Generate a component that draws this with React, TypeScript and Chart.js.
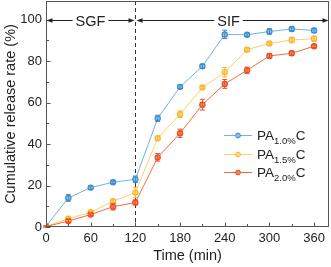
import React, { useEffect, useRef } from "react";
import { Chart, registerables } from "chart.js";

Chart.register(...registerables);

const times = [0, 30, 60, 90, 120, 150, 180, 210, 240, 270, 300, 330, 360];
const pa10 = [0.4, 14.0, 19.0, 21.6, 23.0, 52.4, 67.6, 77.5, 92.9, 92.7, 94.3, 95.5, 94.8];
const pa15 = [0.3, 4.0, 7.1, 12.4, 16.6, 42.8, 54.4, 67.3, 74.7, 85.5, 88.5, 90.2, 90.8];
const pa20 = [0.2, 2.9, 6.0, 9.8, 11.8, 33.6, 45.2, 59.0, 69.0, 75.6, 82.5, 83.8, 87.2];
const err10 = [0.3, 1.6, 0.8, 0.6, 1.6, 1.5, 0.8, 0.9, 2.0, 0.8, 1.3, 1.0, 1.0];
const err15 = [0.3, 0.9, 0.7, 1.0, 2.5, 1.0, 1.6, 0.6, 2.2, 0.8, 0.6, 1.3, 1.2];
const err20 = [0.3, 0.7, 0.6, 1.6, 1.2, 1.8, 2.0, 2.6, 2.1, 1.5, 1.0, 1.0, 0.8];

const seriesSub = ["1.0%", "1.5%", "2.0%"];
const legendMain = "PA";
const legendTail = "C";
const phaseLabels = ["SGF", "SIF"];
const phaseSplit = 120;
const phaseLevel = 100;

const xTickVals = [0, 60, 120, 180, 240, 300, 360];
const yTickVals = [0, 20, 40, 60, 80, 100];
const xMin = 0;
const xMax = 380;
const xMinor = 30;
const yMin = 0;
const yMax = 109;
const yMinor = 10;

const lineColors = ["#72b3e2", "#fdcf6a", "#f46a3c"];
const markColors = ["#3d8bc9", "#f8b62c", "#e94e1f"];
const fillColors = ["#8cc2ea", "#fdd98a", "#f7865e"];
const FONT = "Arial, 'Liberation Sans', sans-serif";

const framePlugin = {
  id: "frameAndExtras",
  beforeDatasetsDraw(chart: any) {
    const { ctx, chartArea: a } = chart;
    const xs = chart.scales.x;
    ctx.save();
    const xd = Math.round(xs.getPixelForValue(phaseSplit)) + 0.5;
    ctx.strokeStyle = "#333";
    ctx.lineWidth = 1;
    ctx.setLineDash([4, 3]);
    ctx.beginPath();
    ctx.moveTo(xd, a.top);
    ctx.lineTo(xd, a.bottom);
    ctx.stroke();
    ctx.setLineDash([]);
    ctx.restore();
  },
  afterDatasetsDraw(chart: any) {
    const { ctx, chartArea: a } = chart;
    const xs = chart.scales.x;
    const ys = chart.scales.y;
    ctx.save();
    // error bars
    const errs = [err10, err15, err20];
    const vals = [pa10, pa15, pa20];
    for (let s = 0; s < 3; s++) {
      ctx.strokeStyle = markColors[s];
      ctx.lineWidth = 1;
      for (let i = 0; i < times.length; i++) {
        const x = xs.getPixelForValue(times[i]);
        const y1 = ys.getPixelForValue(vals[s][i] + errs[s][i]);
        const y2 = ys.getPixelForValue(vals[s][i] - errs[s][i]);
        ctx.beginPath();
        ctx.moveTo(x, y1);
        ctx.lineTo(x, y2);
        ctx.moveTo(x - 2.5, y1);
        ctx.lineTo(x + 2.5, y1);
        ctx.moveTo(x - 2.5, y2);
        ctx.lineTo(x + 2.5, y2);
        ctx.stroke();
      }
    }
    // frame
    ctx.strokeStyle = "#555";
    ctx.lineWidth = 1;
    const L = Math.round(a.left) + 0.5;
    const R = Math.round(a.right) - 0.5;
    const T = Math.round(a.top) + 0.5;
    const B = Math.round(a.bottom) - 0.5;
    ctx.strokeRect(L, T, R - L, B - T);
    // inward ticks
    ctx.beginPath();
    for (let v = xMin; v <= xMax; v += xMinor) {
      const px = Math.round(xs.getPixelForValue(v)) + 0.5;
      const len = xTickVals.includes(v) ? 4 : 2.5;
      ctx.moveTo(px, B);
      ctx.lineTo(px, B - len);
    }
    for (let v = yMin; v <= yMax; v += yMinor) {
      const py = Math.round(ys.getPixelForValue(v)) + 0.5;
      const len = yTickVals.includes(v) ? 4 : 2.5;
      ctx.moveTo(L, py);
      ctx.lineTo(L + len, py);
    }
    ctx.stroke();

    // phase arrows
    const yA = Math.round(ys.getPixelForValue(phaseLevel)) + 0.5;
    const xd = Math.round(xs.getPixelForValue(phaseSplit)) + 0.5;
    const segs = [
      [L, xd - 1],
      [xd + 1, R],
    ];
    ctx.font = `14.5px ${FONT}`;
    ctx.textAlign = "center";
    ctx.textBaseline = "middle";
    ctx.fillStyle = "#222";
    ctx.strokeStyle = "#222";
    segs.forEach((sg, k) => {
      const [x1, x2] = sg;
      const cx = (x1 + x2) / 2 - (k === 1 ? 4 : 0);
      const tw = ctx.measureText(phaseLabels[k]).width;
      ctx.fillText(phaseLabels[k], cx, yA + 1);
      ctx.beginPath();
      ctx.moveTo(x1 + 4, yA);
      ctx.lineTo(cx - tw / 2 - 3, yA);
      ctx.moveTo(cx + tw / 2 + 3, yA);
      ctx.lineTo(x2 - 4, yA);
      ctx.stroke();
      ctx.beginPath();
      ctx.moveTo(x1, yA);
      ctx.lineTo(x1 + 6, yA - 2.2);
      ctx.lineTo(x1 + 6, yA + 2.2);
      ctx.closePath();
      ctx.moveTo(x2, yA);
      ctx.lineTo(x2 - 6, yA - 2.2);
      ctx.lineTo(x2 - 6, yA + 2.2);
      ctx.closePath();
      ctx.fill();
    });

    // legend
    const rows = [135.5, 154.5, 172.5];
    for (let s = 0; s < 3; s++) {
      const y = rows[s];
      ctx.strokeStyle = lineColors[s];
      ctx.lineWidth = 1;
      ctx.beginPath();
      ctx.moveTo(224, y);
      ctx.lineTo(252, y);
      ctx.stroke();
      ctx.fillStyle = fillColors[s];
      ctx.strokeStyle = markColors[s];
      ctx.beginPath();
      ctx.arc(238, y, 2.4, 0, Math.PI * 2);
      ctx.fill();
      ctx.stroke();
      ctx.fillStyle = "#222";
      ctx.textAlign = "left";
      ctx.textBaseline = "middle";
      ctx.font = `13.5px ${FONT}`;
      let x = 257;
      ctx.fillText(legendMain, x, y + 1);
      x += ctx.measureText(legendMain).width;
      ctx.font = `9.5px ${FONT}`;
      ctx.fillText(seriesSub[s], x, y + 6);
      x += ctx.measureText(seriesSub[s]).width;
      ctx.font = `13.5px ${FONT}`;
      ctx.fillText(legendTail, x, y + 1);
    }
    ctx.restore();
  },
};

function makeDs(vals: number[], s: number) {
  return {
    data: times.map((t, i) => ({ x: t, y: vals[i] })),
    borderColor: lineColors[s],
    borderWidth: 1,
    pointRadius: 2.6,
    pointBackgroundColor: fillColors[s],
    pointBorderColor: markColors[s],
    pointBorderWidth: 1.2,
    tension: 0,
  };
}

export default function App() {
  const ref = useRef<HTMLCanvasElement>(null);
  useEffect(() => {
    if (!ref.current) return;
    const chart = new Chart(ref.current, {
      type: "line",
      data: {
        datasets: [makeDs(pa20, 2), makeDs(pa15, 1), makeDs(pa10, 0)],
      },
      options: {
        animation: false,
        responsive: false,
        layout: { autoPadding: false, padding: { top: 1, right: 2, left: 0, bottom: 0 } },
        plugins: { legend: { display: false }, tooltip: { enabled: false } },
        scales: {
          x: {
            type: "linear",
            min: xMin,
            max: xMax,
            grid: { display: false, drawTicks: false },
            border: { display: false },
            ticks: {
              padding: 4,
              color: "#222",
              font: { size: 13, family: FONT },
              maxRotation: 0,
              autoSkip: false,
            },
            afterBuildTicks: (sc: any) => {
              sc.ticks = xTickVals.map((v) => ({ value: v }));
            },
            afterFit: (sc: any) => {
              sc.height = 40;
              sc.paddingLeft = 0;
              sc.paddingRight = 0;
            },
            title: {
              display: true,
              text: "Time (min)",
              color: "#222",
              font: { size: 14.5, family: FONT },
              padding: { top: 0, bottom: 2 },
            },
          },
          y: {
            type: "linear",
            min: yMin,
            max: yMax,
            grid: { display: false, drawTicks: false },
            border: { display: false },
            ticks: {
              padding: 4,
              color: "#222",
              font: { size: 13, family: FONT },
              autoSkip: false,
            },
            afterBuildTicks: (sc: any) => {
              sc.ticks = yTickVals.map((v) => ({ value: v }));
            },
            afterFit: (sc: any) => {
              sc.width = 46;
              sc.paddingTop = 0;
              sc.paddingBottom = 0;
            },
            title: {
              display: true,
              text: "Cumulative release rate (%)",
              color: "#222",
              font: { size: 14.5, family: FONT },
              padding: { top: 2, bottom: 0 },
            },
          },
        },
      },
      plugins: [framePlugin],
    } as any);
    return () => chart.destroy();
  }, []);
  return (
    <div style={{ position: "fixed", left: 0, top: 0, width: 331, height: 267, background: "#fff" }}>
      <canvas ref={ref} width={331} height={267} style={{ display: "block", width: 331, height: 267 }} />
    </div>
  );
}
